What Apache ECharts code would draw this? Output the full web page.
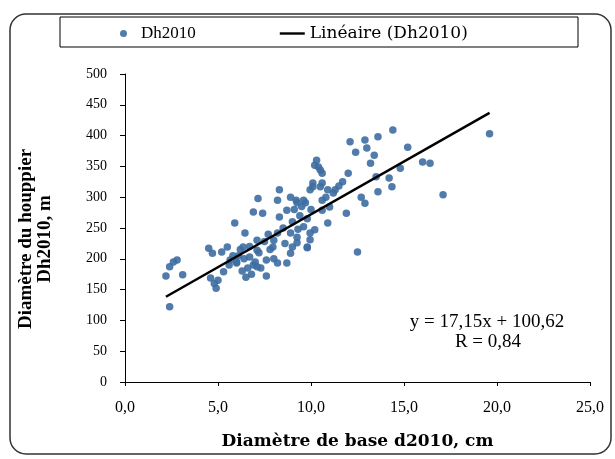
<!DOCTYPE html>
<html>
<head>
<meta charset="utf-8">
<script src="https://cdn.jsdelivr.net/npm/echarts@6/dist/echarts.min.js"></script>
<style>html,body{margin:0;padding:0;background:#fff}#c{width:615px;height:459px}</style>
</head>
<body>
<div id="c"></div>
<script>
const seriesName = 'Dh2010';
const trendName = 'Linéaire (Dh2010)';
const diamBase = [2.2,2.4,2.6,2.8,3.1,2.4,
  4.5,4.7,4.6,4.8,4.9,5.3,5.5,5.2,5.0,5.6,5.8,
  5.9,6.45,6.9,7.4,7.15,6.2,6.4,6.6,6.8,7.0,7.2,6.3,6.0,6.7,7.3,7.5,7.6,6.5,7.1,
  5.65,6.0,6.35,6.7,7.1,7.1,7.6,7.95,8.2,8.2,8.7,8.9,8.9,9.25,9.6,9.95,9.8,
  8.3,8.2,8.7,8.3,8.9,9.2,9.7,9.5,10.3,10.4,10.6,10.1,9.95,10.6,8.5,9.0,9.4,8.0,9.8,10.0,
  10.2,10.5,10.1,10.5,10.9,11.2,10.6,9.6,9.25,11.0,10.6,10.2,9.95,9.25,9.0,9.8,10.9,11.9,11.3,11.7,12.0,
  6.1,7.8,8.6,9.3,8.0,7.7,9.1,10.8,11.5,6.9,
  14.4,13.6,12.9,12.1,12.4,13.0,13.4,13.2,15.2,16.0,16.4,14.8,14.2,14.35,13.6,13.5,12.7,12.9,12.5,17.1,19.6];
const dh2010 = [172,187,195,198,174,122,
  217,209,169,160,152,179,219,211,165,190,205,
  258,242,276,274,298,215,200,185,175,195,210,180,195,220,185,228,172,170,230,
  198,193,219,203,214,187,198,219,242,193,193,242,209,226,252,242,219,
  312,295,279,268,300,295,291,285,360,349,323,323,312,339,250,260,270,230,265,280,
  352,344,317,317,312,307,295,295,291,284,279,247,231,235,219,218,258,274,312,325,339,
  205,215,225,248,200,240,280,300,318,190,
  409,398,393,390,373,380,368,355,381,357,355,347,331,317,309,333,300,290,211,304,403];
const trendSlope = 17.15;
const trendIntercept = 100.62;
const equationText = 'y = 17,15x + 100,62';
const rText = 'R = 0,84';
const xTitle = 'Diamètre de base d2010, cm';
const yTitle = 'Diamètre du houppier\nDh2010, m';

const points = diamBase.map((x, i) => [x, dh2010[i]]);
const xMinData = Math.min(...diamBase), xMaxData = Math.max(...diamBase);
const trendPts = [xMinData, xMaxData].map(x => [x, trendSlope * x + trendIntercept]);

const serif = 'Liberation Serif';
const chart = echarts.init(document.getElementById('c'));
chart.setOption({
  animation: false,
  backgroundColor: '#fff',
  grid: {left: 125, right: 25, top: 74, bottom: 77},
  legend: {
    left: 115, top: 20, itemWidth: 25, itemHeight: 7, itemGap: 84,
    textStyle: {fontFamily: serif, fontSize: 17, color: '#000'},
    data: [
      {name: seriesName, icon: 'circle'},
      {name: trendName, icon: 'path://M0 0H25V2.4H0Z',
        textStyle: {fontFamily: 'DejaVu Serif', fontSize: 17, color: '#000'}}
    ]
  },
  xAxis: {
    type: 'value', min: 0, max: 25, interval: 5,
    axisLine: {lineStyle: {color: '#000', width: 1}},
    axisTick: {show: true, length: 4, lineStyle: {color: '#000'}},
    splitLine: {show: false},
    axisLabel: {fontFamily: serif, fontSize: 16, color: '#000', margin: 18,
      formatter: v => v.toFixed(1).replace('.', ',')},
    name: xTitle, nameLocation: 'middle', nameGap: 51,
    nameTextStyle: {fontFamily: 'DejaVu Serif', fontSize: 17, fontWeight: 'bold', color: '#000'}
  },
  yAxis: {
    type: 'value', min: 0, max: 500, interval: 50,
    axisLine: {show: true, lineStyle: {color: '#000', width: 1}},
    axisTick: {show: true, length: 5, lineStyle: {color: '#000'}},
    splitLine: {show: false},
    axisLabel: {fontFamily: serif, fontSize: 14, color: '#000', margin: 18},
    name: yTitle, nameLocation: 'middle', nameGap: 70, nameRotate: 90,
    nameTextStyle: {fontFamily: serif, fontSize: 19, fontWeight: 'bold', color: '#000', lineHeight: 19,
      padding: [0, 22, 0, 0]}
  },
  series: [
    {name: seriesName, type: 'scatter', data: points, symbolSize: 7.5,
      itemStyle: {color: '#3d6da1', opacity: 0.9}},
    {name: trendName, type: 'line', data: trendPts, symbol: 'none',
      lineStyle: {color: '#000', width: 2.5}, itemStyle: {color: '#000'}}
  ],
  graphic: [
    {type: 'rect', shape: {x: 10, y: 14, width: 601, height: 440, r: 16}, silent: true,
      style: {fill: 'none', stroke: '#333', lineWidth: 1.5}},
    {type: 'rect', shape: {x: 60, y: 17, width: 518, height: 30}, silent: true,
      style: {fill: 'none', stroke: '#000', lineWidth: 1}},
    {type: 'text', silent: true,
      style: {x: 487, y: 322, text: equationText, align: 'center', verticalAlign: 'middle',
        font: '19px "Liberation Serif"', fill: '#000'}},
    {type: 'text', silent: true,
      style: {x: 488, y: 342, text: rText, align: 'center', verticalAlign: 'middle',
        font: '19px "Liberation Serif"', fill: '#000'}}
  ]
});
</script>
</body>
</html>
